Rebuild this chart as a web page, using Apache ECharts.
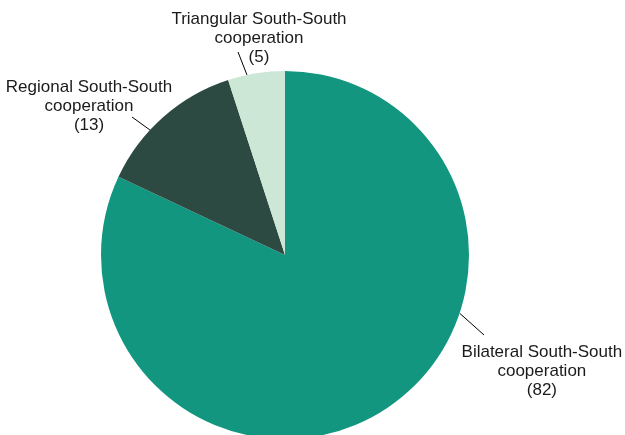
<!DOCTYPE html>
<html>
<head>
<meta charset="utf-8">
<script src="https://cdn.jsdelivr.net/npm/echarts@6/dist/echarts.min.js"></script>
<style>html,body{margin:0;padding:0;background:#fff}#c{width:625px;height:435px}</style>
</head>
<body>
<div id="c"></div>
<script>
const categories = ['Bilateral South-South\ncooperation', 'Regional South-South\ncooperation', 'Triangular South-South\ncooperation'];
const values = [82, 13, 5];
const colors = ['#12967F', '#2C4A42', '#CDE7D6'];
// label centre positions and guide-line ends (fraction of chart width/height)
const labelPos = [[0.867, 0.853], [0.1424, 0.2437], [0.4144, 0.0885]];
const lineStart = [[0.7344, 0.7195], [0.24, 0.2989], [0.3952, 0.1724]];
const lineEnd = [[0.7744, 0.7701], [0.2112, 0.269], [0.3808, 0.1195]];

const CX = 285, CY = 255, R = 184;

const chart = echarts.init(document.getElementById('c'), null, {renderer: 'canvas'});
chart.setOption({
  animation: false,
  series: [{
    type: 'pie',
    center: [CX, CY],
    radius: R,
    startAngle: 90,
    clockwise: true,
    data: categories.map((n, i) => ({name: n, value: values[i], itemStyle: {color: colors[i]}})),
    itemStyle: {borderWidth: 0},
    emphasis: {disabled: true},
    label: {
      show: true,
      position: 'outside',
      formatter: p => p.name + '\n(' + p.value + ')',
      color: '#1a1a1a',
      fontFamily: 'Liberation Sans, Arial, sans-serif',
      fontSize: 17,
      lineHeight: 19,
      align: 'center',
      overflow: 'none'
    },
    labelLine: {show: true, length: 15, length2: 0, lineStyle: {color: '#000', width: 1}},
    labelLayout: function (p) {
      const w = chart.getWidth(), h = chart.getHeight();
      const pos = labelPos[p.dataIndex];
      const e = lineEnd[p.dataIndex], s = lineStart[p.dataIndex];
      const dx = s[0] * w - CX, dy = s[1] * h - CY, d = Math.sqrt(dx * dx + dy * dy);
      const sx = CX + dx / d * R, sy = CY + dy / d * R;
      return {
        x: pos[0] * w, y: pos[1] * h, align: 'center', verticalAlign: 'middle',
        labelLinePoints: [[sx, sy], [e[0] * w, e[1] * h]]
      };
    }
  }]
});
</script>
</body>
</html>
